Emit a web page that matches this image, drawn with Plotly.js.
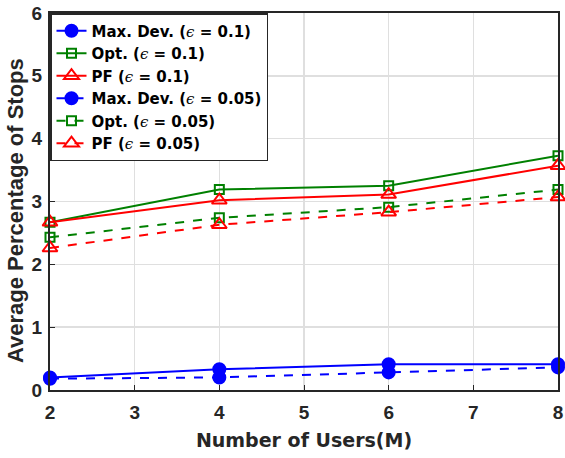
<!DOCTYPE html>
<html><head><meta charset="utf-8">
<script src="https://cdn.plot.ly/plotly-3.0.1.min.js"></script>
<style>body{margin:0;padding:0;background:#fff}#chart{width:565px;height:458px}</style>
</head><body><div id="chart"></div>
<script>
var users = [2, 4, 6, 8];
var maxDev01 = [0.20, 0.33, 0.41, 0.41];
var opt01 = [2.67, 3.19, 3.25, 3.73];
var pf01 = [2.67, 3.02, 3.11, 3.57];
var maxDev005 = [0.18, 0.20, 0.28, 0.36];
var opt005 = [2.43, 2.74, 2.91, 3.19];
var pf005 = [2.26, 2.63, 2.83, 3.07];
var labels = ['Max. Dev.', 'Opt.', 'PF', 'Max. Dev.', 'Opt.', 'PF'];
var eps = ['0.1', '0.1', '0.1', '0.05', '0.05', '0.05'];
var xTicks = [2, 3, 4, 5, 6, 7, 8];
var yTicks = [0, 1, 2, 3, 4, 5, 6];

var blue = '#0000FF', green = '#008000', red = '#FF0000';
function nm(i) {
  return '<b>' + labels[i] + ' (</b><span style="font-family:DejaVu Serif"><i>ϵ</i></span><b> = ' + eps[i] + ')</b>';
}
function tr(y, i, color, dash, symbol, size) {
  return {x: users, y: y, name: nm(i), type: 'scatter', mode: 'lines+markers',
    line: {color: color, width: 2, dash: dash},
    marker: {symbol: symbol, size: size, color: color, line: {color: color, width: 2}},
    cliponaxis: false};
}
var data = [
  tr(maxDev01, 0, blue, 'solid', 'circle', 12),
  tr(opt01, 1, green, 'solid', 'square-open', 9),
  tr(pf01, 2, red, 'solid', 'triangle-up-open', 13),
  tr(maxDev005, 3, blue, 'dash', 'circle', 12),
  tr(opt005, 4, green, 'dash', 'square-open', 9),
  tr(pf005, 5, red, 'dash', 'triangle-up-open', 13)
];
var wide = 'DejaVu Sans, Liberation Sans, Arial, sans-serif';
var arial = 'Liberation Sans, Arial, sans-serif';
var narrow = 'Liberation Sans Narrow, Arial Narrow, Liberation Sans, sans-serif';
var tickFont = {family: arial, size: 19, color: '#262626'};
function bold(a) { return a.map(function(v){ return '<b>' + v + '</b>'; }); }
var layout = {
  width: 565, height: 458,
  margin: {l: 50, r: 7, t: 13, b: 68},
  paper_bgcolor: '#fff', plot_bgcolor: '#fff',
  font: {family: arial, color: '#262626'},
  showlegend: true,
  legend: {x: 0, y: 1, xanchor: 'left', yanchor: 'top', bgcolor: '#fff',
    bordercolor: '#262626', borderwidth: 1.5,
    font: {family: wide, size: 15, color: '#000'}},
  xaxis: {range: [2, 8], tickvals: xTicks, ticktext: bold(xTicks), showgrid: true, gridcolor: '#dfdfdf', gridwidth: 1.5,
    showline: true, linecolor: '#262626', linewidth: 2, mirror: true, ticks: 'inside', ticklen: 5,
    tickcolor: '#262626', tickfont: tickFont, zeroline: false, ticklabelstandoff: 4,
    title: {text: '<b>Number of Users(M)</b>', font: {family: wide, size: 19, color: '#262626'}, standoff: 12}},
  yaxis: {range: [0, 6], tickvals: yTicks, ticktext: bold(yTicks), showgrid: true, gridcolor: '#dfdfdf', gridwidth: 1.5,
    showline: true, linecolor: '#262626', linewidth: 2, mirror: true, ticks: 'inside', ticklen: 5,
    tickcolor: '#262626', tickfont: tickFont, zeroline: false, ticklabelstandoff: 2,
    title: {text: '<b>Average Percentage of Stops</b>&nbsp;&nbsp;&nbsp;', font: {family: narrow, size: 22, color: '#262626'}, standoff: 2}}
};
Plotly.newPlot('chart', data, layout, {displayModeBar: false, staticPlot: true});
</script></body></html>
